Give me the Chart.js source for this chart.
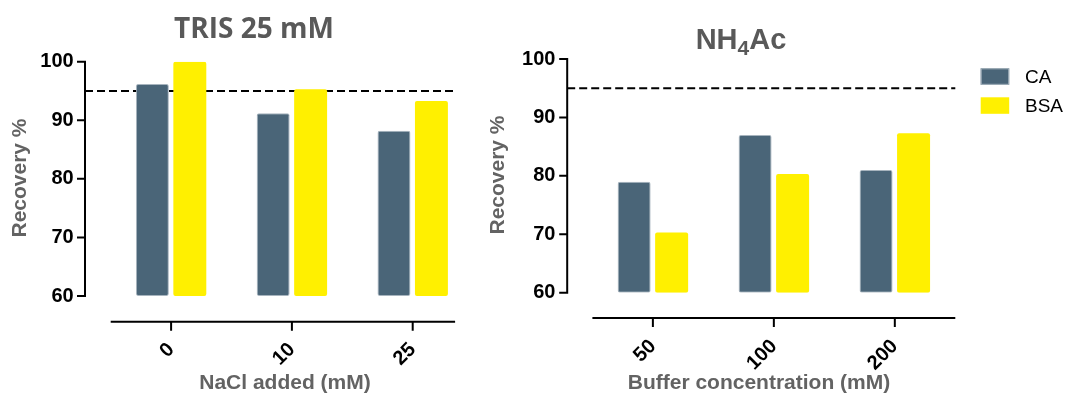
<!DOCTYPE html>
<html>
<head>
<meta charset="utf-8">
<script src="https://cdn.jsdelivr.net/npm/chart.js@4.4.1/dist/chart.umd.min.js"></script>
<style>
  html, body { margin: 0; padding: 0; background: #ffffff; }
  #wrap { position: relative; width: 1067px; height: 394px; overflow: hidden; }
  .panel { position: absolute; top: 0; }
</style>
</head>
<body>
<div id="wrap">
  <div class="panel" style="left:0px"><canvas id="trisChart" width="480" height="394"></canvas></div>
  <div class="panel" style="left:480px"><canvas id="nh4Chart" width="587" height="394"></canvas></div>
</div>
<script>
// Recovery (%) of CA and BSA under two buffer conditions
const seriesNames = ['CA', 'BSA'];

const naclAdded = ['0', '10', '25'];          // mM NaCl added to TRIS 25 mM
const trisCA = [96.2, 91.2, 88.2];
const trisBSA = [100, 95.3, 93.3];

const bufferConc = ['50', '100', '200'];      // mM NH4Ac
const nh4CA = [79.0, 87.0, 81.0];
const nh4BSA = [70.3, 80.3, 87.3];

const recoveryTicks = [60, 70, 80, 90, 100];
const targetRecovery = 95;                    // dashed reference level

const COLORS = { CA: '#4a6578', BSA: '#fff000' };
const SANS = "'Liberation Sans', Arial, sans-serif";

// Prism-style detached axes, dashed target line, titles and legend
const prismDecor = {
  id: 'prismDecor',
  beforeDatasetsDraw(chart, args, o) {
    const { ctx, chartArea: a, scales: { y } } = chart;
    const ax = a.left - o.yGap;
    const xEnd = a.right - o.xTrim;
    const ry = y.getPixelForValue(o.refValue);
    ctx.save();
    ctx.strokeStyle = '#000';
    ctx.lineWidth = 2;
    ctx.setLineDash([8, 4]);
    ctx.beginPath();
    ctx.moveTo(ax, ry);
    ctx.lineTo(xEnd, ry);
    ctx.stroke();
    ctx.restore();
  },
  afterDraw(chart, args, o) {
    const { ctx, chartArea: a, scales: { x, y } } = chart;
    const ax = a.left - o.yGap;
    const ay = a.bottom + o.xGap;
    const xEnd = a.right - o.xTrim;
    ctx.save();
    ctx.strokeStyle = '#000';
    ctx.lineWidth = 2;
    ctx.lineCap = 'butt';
    // y axis with outward ticks
    const yTop = y.getPixelForValue(y.max);
    const yBot = y.getPixelForValue(y.min);
    ctx.beginPath();
    ctx.moveTo(ax, yTop - 1);
    ctx.lineTo(ax, yBot + 1);
    y.ticks.forEach(t => {
      const py = y.getPixelForValue(t.value);
      ctx.moveTo(ax - 8, py);
      ctx.lineTo(ax + 1, py);
    });
    ctx.stroke();
    // x axis, offset below the plot
    ctx.beginPath();
    ctx.moveTo(a.left, ay);
    ctx.lineTo(xEnd, ay);
    x.ticks.forEach((t, i) => {
      const px = x.getPixelForTick(i);
      ctx.moveTo(px, ay);
      ctx.lineTo(px, ay + 9);
    });
    ctx.stroke();

    // panel title
    const t = o.title;
    ctx.fillStyle = '#595959';
    ctx.textBaseline = 'alphabetic';
    if (t.parts) {
      let w = 0;
      t.parts.forEach(p => { ctx.font = p.font; w += ctx.measureText(p.text).width; });
      let cx = t.x - w / 2;
      ctx.textAlign = 'left';
      t.parts.forEach(p => {
        ctx.font = p.font;
        ctx.fillText(p.text, cx, t.y + (p.dy || 0));
        cx += ctx.measureText(p.text).width;
      });
    } else {
      ctx.font = t.font;
      ctx.textAlign = 'center';
      ctx.fillText(t.text, t.x, t.y);
    }

    // axis titles
    ctx.fillStyle = '#636363';
    ctx.font = 'bold 21px ' + SANS;
    ctx.textAlign = 'center';
    ctx.textBaseline = 'middle';
    ctx.fillText(o.xTitle.text, o.xTitle.x, o.xTitle.y);
    ctx.save();
    ctx.translate(o.yTitle.x, o.yTitle.y);
    ctx.rotate(-Math.PI / 2);
    ctx.fillText(o.yTitle.text, 0, 0);
    ctx.restore();

    // legend built from the datasets
    if (o.legend) {
      const L = o.legend;
      chart.data.datasets.forEach((ds, i) => {
        const by = L.y + i * L.step;
        ctx.fillStyle = ds.backgroundColor;
        ctx.fillRect(L.x, by, L.boxW, L.boxH);
        if (ds.borderWidth) {
          ctx.strokeStyle = ds.borderColor;
          ctx.lineWidth = 1;
          ctx.strokeRect(L.x + 0.5, by + 0.5, L.boxW - 1, L.boxH - 1);
        }
        ctx.fillStyle = '#000';
        ctx.font = '19px ' + SANS;
        ctx.textAlign = 'left';
        ctx.textBaseline = 'middle';
        ctx.fillText(ds.label, L.textX, by + L.boxH / 2 + 1);
      });
    }
    ctx.restore();
  }
};

function makeDatasets(ca, bsa) {
  return [
    { label: seriesNames[0], data: ca, backgroundColor: COLORS.CA,
      borderColor: '#a7b4be', borderWidth: 1, borderRadius: 2, borderSkipped: false },
    { label: seriesNames[1], data: bsa, backgroundColor: COLORS.BSA,
      borderColor: COLORS.BSA, borderWidth: 0, borderRadius: 2, borderSkipped: false }
  ];
}

function makeOptions(p) {
  const tickFont = { family: SANS, size: 20, weight: 'bold' };
  return {
    responsive: false,
    animation: false,
    layout: { padding: { top: p.top, right: p.right, bottom: 0, left: 0 } },
    datasets: { bar: { categoryPercentage: 0.62, barPercentage: 0.88, base: 60 } },
    plugins: {
      legend: { display: false },
      title: { display: false },
      tooltip: { enabled: false },
      prismDecor: p.decor
    },
    scales: {
      x: {
        type: 'category',
        offset: true,
        grid: { display: false, drawTicks: false },
        border: { display: false },
        ticks: { color: '#000', font: tickFont, minRotation: 45, maxRotation: 45,
                 autoSkip: false, padding: p.xPad },
        afterFit: s => { s.height = p.xHeight; }
      },
      y: {
        min: recoveryTicks[0],
        max: recoveryTicks[recoveryTicks.length - 1],
        grid: { display: false, drawTicks: false },
        border: { display: false },
        ticks: { color: '#000', font: tickFont, padding: 37 },
        afterBuildTicks: s => { s.ticks = recoveryTicks.map(v => ({ value: v })); },
        afterFit: s => { s.width = p.yWidth; }
      }
    }
  };
}

new Chart(document.getElementById('trisChart'), {
  type: 'bar',
  data: { labels: naclAdded, datasets: makeDatasets(trisCA, trisBSA) },
  options: makeOptions({
    top: 61.7, right: 6.9, xHeight: 98, yWidth: 110.7, xPad: 42,
    decor: {
      refValue: targetRecovery, yGap: 25.7, xGap: 25.7, xTrim: 18,
      title: { text: 'TRIS 25 mM', font: "bold 28px 'Open Sans', sans-serif", x: 254, y: 37.5 },
      xTitle: { text: 'NaCl added (mM)', x: 285, y: 383 },
      yTitle: { text: 'Recovery %', x: 20, y: 178 }
    }
  }),
  plugins: [prismDecor]
});

new Chart(document.getElementById('nh4Chart'), {
  type: 'bar',
  data: { labels: bufferConc, datasets: makeDatasets(nh4CA, nh4BSA) },
  options: makeOptions({
    top: 59, right: 111.7, xHeight: 101.3, yWidth: 112.4, xPad: 42,
    decor: {
      refValue: targetRecovery, yGap: 25.2, xGap: 25.3, xTrim: 0,
      title: {
        x: 261, y: 49,
        parts: [
          { text: 'NH', font: 'bold 29px ' + SANS },
          { text: '4', font: 'bold 21px ' + SANS, dy: 6 },
          { text: 'Ac', font: 'bold 29px ' + SANS }
        ]
      },
      xTitle: { text: 'Buffer concentration (mM)', x: 279, y: 383 },
      yTitle: { text: 'Recovery %', x: 18, y: 175 },
      legend: { x: 500.7, y: 68.3, boxW: 28.5, boxH: 16.5, step: 29, textX: 545 }
    }
  }),
  plugins: [prismDecor]
});
</script>
</body>
</html>
